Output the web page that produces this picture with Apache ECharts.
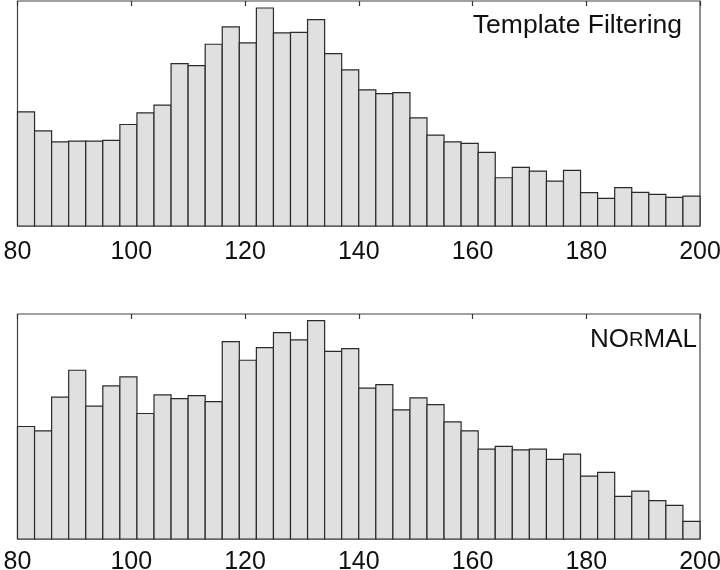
<!DOCTYPE html>
<html>
<head>
<meta charset="utf-8">
<script src="https://cdn.jsdelivr.net/npm/echarts@6/dist/echarts.min.js"></script>
<style>html,body{margin:0;padding:0;background:#fff}#c{width:720px;height:570px}</style>
</head>
<body>
<div id="c"></div>
<script>
// bin start values (bin width 3)
const binStarts = [80,83,86,89,92,95,98,101,104,107,110,113,116,119,122,125,128,131,134,137,
                   140,143,146,149,152,155,158,161,164,167,170,173,176,179,182,185,188,191,194,197];
const binWidth = 3;
const xTicks = [80,100,120,140,160,180,200];
const templateCounts = [343,286,253,255,255,257,305,340,363,488,482,546,598,550,655,580,582,620,518,469,
                        409,398,401,325,273,253,248,221,145,176,165,135,167,100,83,115,101,95,86,90];
const normalCounts = [338,325,426,507,399,460,487,377,433,422,431,413,593,537,575,620,598,656,564,572,
                      453,464,388,424,404,352,325,270,278,268,270,239,255,189,200,128,144,115,101,53];
const topLabel = 'Template Filtering';

const chart = echarts.init(document.getElementById('c'), null, {renderer: 'canvas'});
const font = 'Liberation Sans, Arial, Helvetica, sans-serif';

function toData(counts) {
  return binStarts.map((s, i) => [s, s + binWidth, counts[i]]);
}
function renderBar(params, api) {
  const p0 = api.coord([api.value(0), api.value(2)]);
  const p1 = api.coord([api.value(1), 0]);
  return {
    type: 'rect',
    shape: {x: p0[0], y: p0[1], width: p1[0] - p0[0], height: p1[1] - p0[1]},
    style: {fill: '#e0e0e0', stroke: '#2a2a2a', lineWidth: 1.2}
  };
}
function bottomAxis(gi, margin) {
  return {
    type: 'value', gridIndex: gi, position: 'bottom', min: 80, max: 200, interval: 20,
    axisLine: {show: false}, splitLine: {show: false},
    axisTick: {show: false},
    axisLabel: {fontSize: 25, color: '#111', fontFamily: font, margin: margin,
      formatter: v => xTicks.indexOf(v) >= 0 ? String(v) : ''}
  };
}
function topAxis(gi) {
  return {
    type: 'value', gridIndex: gi, position: 'top', min: 80, max: 200, interval: 20,
    axisLine: {show: false}, splitLine: {show: false}, axisLabel: {show: false},
    axisTick: {show: true, inside: true, length: 5, lineStyle: {color: '#333', width: 1.2}}
  };
}
function yAxis(gi, max) {
  return {type: 'value', gridIndex: gi, min: 0, max: max, show: false};
}

chart.setOption({
  animation: false,
  grid: [
    {left: 17.5, right: 20, top: 1, height: 225, show: true, borderColor: '#444', borderWidth: 1.2,
     backgroundColor: 'transparent', containLabel: false, outerBoundsMode: 'none'},
    {left: 17.5, right: 20, top: 314, height: 225, show: true, borderColor: '#444', borderWidth: 1.2,
     backgroundColor: 'transparent', containLabel: false, outerBoundsMode: 'none'}
  ],
  xAxis: [bottomAxis(0, 14), topAxis(0), bottomAxis(1, 11), topAxis(1)],
  yAxis: [yAxis(0, 676), yAxis(1, 676)],
  series: [
    {type: 'custom', xAxisIndex: 0, yAxisIndex: 0, renderItem: renderBar, data: toData(templateCounts), encode: {x: [0, 1], y: 2}},
    {type: 'custom', xAxisIndex: 2, yAxisIndex: 1, renderItem: renderBar, data: toData(normalCounts), encode: {x: [0, 1], y: 2}}
  ],
  graphic: [
    {type: 'text', right: 38, top: 12, style: {text: topLabel, fontSize: 26.5, fontFamily: font, fill: '#111'}},
    {type: 'text', right: 23, top: 327, style: {
      text: '{a|NO}{b|R}{a|MAL}', fontFamily: font, fill: '#111',
      rich: {a: {fontSize: 26, fontFamily: font, fill: '#111'}, b: {fontSize: 20, fontFamily: font, fill: '#111'}}
    }}
  ]
});
</script>
</body>
</html>
